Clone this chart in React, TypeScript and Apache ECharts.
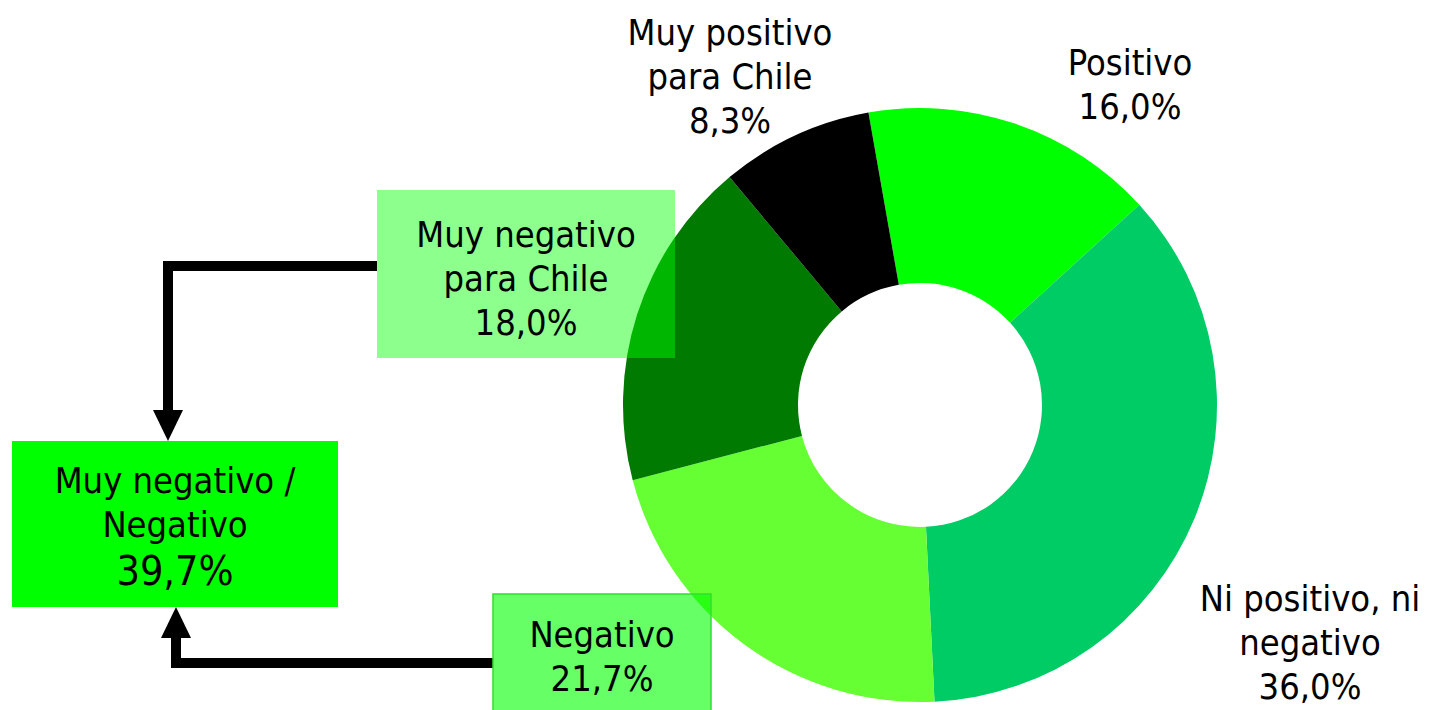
import React, { useEffect, useRef } from "react";
import * as echarts from "echarts";

const categories = [
  "Positivo",
  "Ni positivo, ni negativo",
  "Negativo",
  "Muy negativo para Chile",
  "Muy positivo para Chile",
];
const categoryLabels = [
  "Positivo",
  "Ni positivo, ni\nnegativo",
  "Negativo",
  "Muy negativo\npara Chile",
  "Muy positivo\npara Chile",
];
const values = [16.0, 36.0, 21.7, 18.0, 8.3];
const colors = ["#00FF00", "#00CC66", "#66FF33", "#007A00", "#000000"];
const combinedTitle = "Muy negativo /\nNegativo";

const FONT = "DejaVu Sans Condensed";
const FS = 36;
const LH = 44;
const fmt = (v: number) => v.toFixed(1).replace(".", ",") + "%";

// label anchor positions (layout, not data)
const labelPos: Record<number, [number, number]> = {
  0: [1130, 84],
  1: [1310, 642],
  4: [730, 76],
};

export default function App() {
  const ref = useRef<HTMLDivElement>(null);
  useEffect(() => {
    if (!ref.current) return;
    const chart = echarts.init(ref.current, undefined, { renderer: "svg" });
    const iNeg = categories.indexOf("Negativo");
    const iMuyNeg = categories.indexOf("Muy negativo para Chile");
    const combined = values[iNeg] + values[iMuyNeg];
    const data = categories.map((c, i) => ({
      name: c,
      value: values[i],
      itemStyle: { color: colors[i] },
      label: { show: labelPos[i] !== undefined },
    }));
    const textStyle = (text: string, x: number, y: number, fs = FS) => ({
      text,
      x,
      y,
      textAlign: "center",
      textVerticalAlign: "middle",
      fontFamily: FONT,
      fontSize: fs,
      lineHeight: LH,
      fill: "#000",
    });
    chart.setOption({
      animation: false,
      series: [
        {
          type: "pie",
          center: [920, 405],
          radius: [122, 297],
          startAngle: 100,
          clockwise: true,
          z: 2,
          data,
          label: {
            position: "outside",
            formatter: (p: any) => categoryLabels[p.dataIndex] + "\n" + fmt(p.value),
            fontFamily: FONT,
            fontSize: FS,
            lineHeight: LH,
            color: "#000",
            align: "center",
            overflow: "none",
            width: 400,
          },
          labelLine: { show: false },
          labelLayout: (p: any) => {
            const pos = labelPos[p.dataIndex];
            if (!pos) return {};
            return { x: pos[0], y: pos[1], align: "center", verticalAlign: "middle" };
          },
          emphasis: { disabled: true },
        },
      ],
      graphic: [
        // arrow 1
        {
          type: "polyline",
          z: 5,
          shape: { points: [[377, 266], [168, 266], [168, 412]] },
          style: { stroke: "#000", lineWidth: 10, fill: null },
        },
        {
          type: "polygon",
          z: 5,
          shape: { points: [[153, 410], [183, 410], [168, 441]] },
          style: { fill: "#000" },
        },
        // arrow 2
        {
          type: "polyline",
          z: 5,
          shape: { points: [[493, 663], [176, 663], [176, 636]] },
          style: { stroke: "#000", lineWidth: 10, fill: null },
        },
        {
          type: "polygon",
          z: 5,
          shape: { points: [[161, 638], [191, 638], [176, 607]] },
          style: { fill: "#000" },
        },
        // box 1
        {
          type: "rect",
          z: 10,
          shape: { x: 377, y: 190, width: 298, height: 168 },
          style: { fill: "rgba(0,255,0,0.45)" },
        },
        {
          type: "text",
          z: 11,
          style: textStyle(categoryLabels[iMuyNeg] + "\n" + fmt(values[iMuyNeg]), 526, 278),
        },
        // box 2
        {
          type: "rect",
          z: 10,
          shape: { x: 493, y: 594, width: 218, height: 130 },
          style: { fill: "rgba(0,255,0,0.6)", stroke: "#33DD33", lineWidth: 1.5 },
        },
        {
          type: "text",
          z: 11,
          style: textStyle(categoryLabels[iNeg] + "\n" + fmt(values[iNeg]), 602, 656),
        },
        // box 3
        {
          type: "rect",
          z: 10,
          shape: { x: 12, y: 441, width: 326, height: 166 },
          style: { fill: "#00FF00" },
        },
        {
          type: "text",
          z: 11,
          style: textStyle(combinedTitle, 175, 502),
        },
        {
          type: "text",
          z: 11,
          style: textStyle(fmt(combined), 175, 571, 41),
        },
      ],
    });
    return () => chart.dispose();
  }, []);
  return (
    <div
      ref={ref}
      style={{ position: "fixed", left: 0, top: 0, width: 1430, height: 710, background: "#fff" }}
    />
  );
}
